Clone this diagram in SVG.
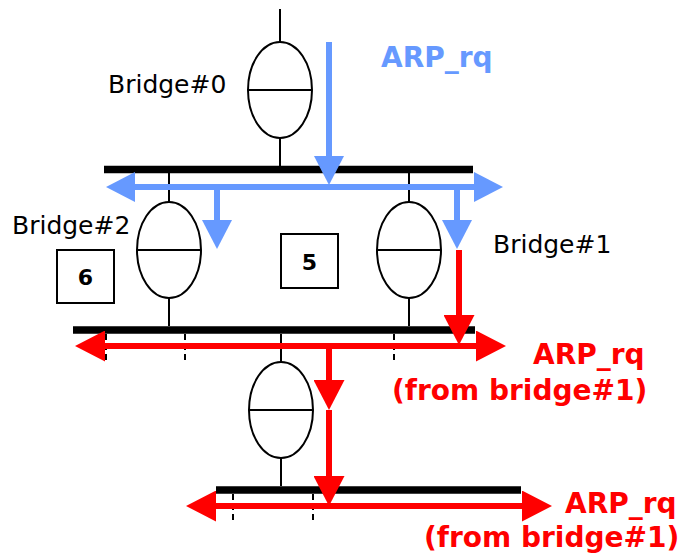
<svg xmlns="http://www.w3.org/2000/svg" width="680" height="557" viewBox="0 0 680 557">
<defs>
<style>
.thin{stroke:#000;stroke-width:2;fill:none}
.node ellipse,.node rect{fill:#fff;stroke:#000;stroke-width:2}
.bus{stroke:#000;stroke-width:7.5;fill:none}
.tick{stroke:#000;stroke-width:2;stroke-dasharray:6 4;fill:none}
.blue{stroke:#6699FF;stroke-width:6;fill:none}
.red{stroke:#FF0000;stroke-width:6;fill:none}
.lbl{font-family:"DejaVu Sans",sans-serif;font-size:25px;fill:#000}
.num{font-family:"DejaVu Sans",sans-serif;font-size:22px;font-weight:bold;fill:#000;text-anchor:middle}
.arpb{font-family:"DejaVu Sans",sans-serif;font-size:28px;font-weight:bold;fill:#6699FF}
.arpr{font-family:"DejaVu Sans",sans-serif;font-size:28px;font-weight:bold;fill:#FF0000}
</style>
<marker id="ab" markerUnits="userSpaceOnUse" markerWidth="30" markerHeight="30" refX="0" refY="15" orient="auto-start-reverse" viewBox="0 0 30 30">
<path d="M0,0 L29,15 L0,30 Z" fill="#6699FF"/>
</marker>
<marker id="ar" markerUnits="userSpaceOnUse" markerWidth="31" markerHeight="31" refX="0" refY="15.5" orient="auto-start-reverse" viewBox="0 0 31 31">
<path d="M0,0 L30,15.5 L0,31 Z" fill="#FF0000"/>
</marker>
</defs>
<rect width="680" height="557" fill="#fff"/>

<g id="buses">
<line class="bus" x1="104" y1="169.5" x2="473" y2="169.5"/>
<line class="bus" x1="73" y1="330" x2="475" y2="330"/>
<line class="bus" x1="216" y1="490" x2="521" y2="490"/>
</g>

<g id="bridge0" class="node">
<line class="thin" x1="280" y1="9" x2="280" y2="42"/>
<line class="thin" x1="280" y1="138" x2="280" y2="166"/>
<ellipse cx="280" cy="90" rx="32" ry="48"/>
<line class="thin" x1="248" y1="90" x2="312" y2="90"/>
<text class="lbl" x="108" y="93">Bridge#0</text>
</g>

<g id="bridge2" class="node">
<line class="thin" x1="169" y1="173" x2="169" y2="202"/>
<line class="thin" x1="169" y1="298" x2="169" y2="326"/>
<ellipse cx="169" cy="250" rx="32" ry="48"/>
<line class="thin" x1="137" y1="250" x2="201" y2="250"/>
<text class="lbl" x="12" y="234">Bridge#2</text>
</g>

<g id="bridge1" class="node">
<line class="thin" x1="409" y1="173" x2="409" y2="202"/>
<line class="thin" x1="409" y1="298" x2="409" y2="326"/>
<ellipse cx="409" cy="250" rx="32" ry="48"/>
<line class="thin" x1="377" y1="250" x2="441" y2="250"/>
<text class="lbl" x="493" y="253">Bridge#1</text>
</g>

<g id="bridge3" class="node">
<line class="thin" x1="281" y1="334" x2="281" y2="362"/>
<line class="thin" x1="281" y1="458" x2="281" y2="486"/>
<ellipse cx="281" cy="410" rx="32" ry="48"/>
<line class="thin" x1="249" y1="410" x2="313" y2="410"/>
</g>

<g id="box6" class="node">
<rect x="57" y="250" width="57" height="53"/>
<text class="num" x="85.5" y="285">6</text>
</g>

<g id="box5" class="node">
<rect x="281" y="234" width="57" height="54"/>
<text class="num" x="309.5" y="270">5</text>
</g>

<g id="ticks">
<line class="tick" x1="106" y1="334" x2="106" y2="363"/>
<line class="tick" x1="185" y1="334" x2="185" y2="363"/>
<line class="tick" x1="394" y1="334" x2="394" y2="363"/>
<line class="tick" x1="233" y1="494" x2="233" y2="523"/>
<line class="tick" x1="313" y1="494" x2="313" y2="523"/>
</g>

<g id="connectors">
<line class="blue" x1="329" y1="42" x2="329" y2="156" marker-end="url(#ab)"/>
<line class="blue" x1="135" y1="187" x2="474" y2="187" marker-start="url(#ab)" marker-end="url(#ab)"/>
<line class="blue" x1="217" y1="184" x2="217" y2="220" marker-end="url(#ab)"/>
<line class="blue" x1="457" y1="184" x2="457" y2="220" marker-end="url(#ab)"/>
<line class="red" x1="459" y1="250" x2="459" y2="315" marker-end="url(#ar)"/>
<line class="red" x1="105" y1="346" x2="476" y2="346" marker-start="url(#ar)" marker-end="url(#ar)"/>
<line class="red" x1="329" y1="343" x2="329" y2="380" marker-end="url(#ar)"/>
<line class="red" x1="329" y1="410" x2="329" y2="476" marker-end="url(#ar)"/>
<line class="red" x1="216" y1="506" x2="522" y2="506" marker-start="url(#ar)" marker-end="url(#ar)"/>
</g>

<g id="labels">
<text class="arpb" x="381" y="67">ARP_rq</text>
<text class="arpr" x="533" y="364">ARP_rq</text>
<text class="arpr" x="392" y="400">(from bridge#1)</text>
<text class="arpr" x="565" y="513">ARP_rq</text>
<text class="arpr" x="424" y="547">(from bridge#1)</text>
</g>
</svg>
